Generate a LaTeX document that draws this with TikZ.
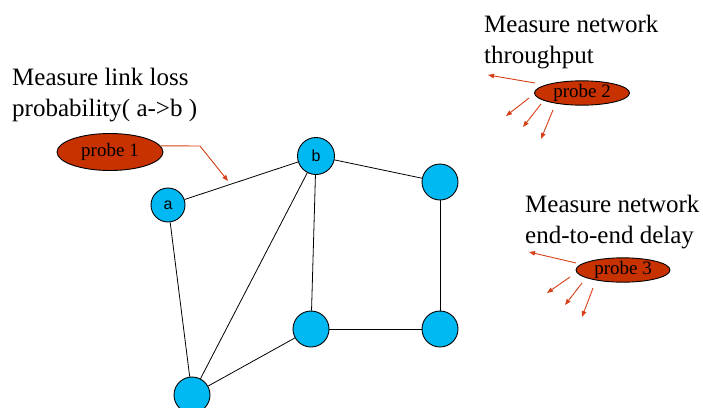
\documentclass[tikz,border=0pt]{standalone}
\usepackage{fontspec}
\setmainfont{Liberation Serif}
\newfontfamily\labelfont{Liberation Sans}
\usetikzlibrary{shapes.geometric, arrows.meta}

\definecolor{nodeblue}{RGB}{0,185,242}
\definecolor{probered}{RGB}{200,50,0}
\definecolor{arrowred}{RGB}{214,64,24}

\tikzset{
  router/.style={circle, draw=black, line width=0.9pt, fill=nodeblue,
    minimum size=36pt, inner sep=0pt, font=\labelfont\fontsize{16}{18}\selectfont},
  probe/.style={ellipse, draw=black, line width=0.9pt, fill=probered,
    inner sep=0pt, font=\fontsize{19}{21}\selectfont},
  caption/.style={anchor=north west, inner sep=0pt, align=left,
    font=\fontsize{25}{30.5}\selectfont},
  link/.style={line width=0.8pt},
  probearrow/.style={arrowred, line width=0.9pt,
    -{Triangle[length=6pt,width=4.5pt]}}
}

\begin{document}
\begin{tikzpicture}[x=1pt, y=-1pt]
    \useasboundingbox (0,0) rectangle (703,407);

    % network
    \node[router, minimum size=34pt] (a) at (168,205) {a};
    \node[router, minimum size=37pt] (b) at (316,156) {b};
    \node[router] (tr) at (440,182) {};
    \node[router] (mid) at (311,329) {};
    \node[router] (br) at (440,329) {};
    \node[router] (bl) at (192,395) {};

    \draw[link] (a) -- (b);
    \draw[link] (a) -- (bl);
    \draw[link] (b) -- (tr);
    \draw[link] (b) -- (mid);
    \draw[link] (b) -- (bl);
    \draw[link] (tr) -- (br);
    \draw[link] (mid) -- (br);
    \draw[link] (mid) -- (bl);

    % probe 1: link loss
    \node[caption] (t1) at (12,68)
        {Measure link loss \\ probability( a->b )};
    \node[probe, minimum width=106pt, minimum height=37pt] (p1) at (110,152) {probe 1};
    \coordinate (p1bend) at (200,146);
    \coordinate (p1tip) at (228,181);
    \draw[probearrow] (p1.7) -- (p1bend) -- (p1tip);

    % probe 2: throughput
    \node[caption] (t2) at (484,15)
        {Measure network \\ throughput};
    \node[probe, minimum width=95pt, minimum height=21pt] (p2) at (582,93) {probe 2};
    \draw[probearrow] ([shift={(-47,-10)}]p2.center) -- ([shift={(-94,-18)}]p2.center);
    \draw[probearrow] ([shift={(-53,5)}]p2.center) -- ([shift={(-76,23)}]p2.center);
    \draw[probearrow] ([shift={(-41,11)}]p2.center) -- ([shift={(-59,34)}]p2.center);
    \draw[probearrow] ([shift={(-29,17)}]p2.center) -- ([shift={(-41,46)}]p2.center);

    % probe 3: delay
    \node[caption] (t3) at (525,195)
        {Measure network \\ end-to-end delay};
    \node[probe, minimum width=94pt, minimum height=21pt] (p3) at (623,270) {probe 3};
    \draw[probearrow] ([shift={(-47,-7)}]p3.center) -- ([shift={(-94,-18)}]p3.center);
    \draw[probearrow] ([shift={(-53,7)}]p3.center) -- ([shift={(-76,23)}]p3.center);
    \draw[probearrow] ([shift={(-41,13)}]p3.center) -- ([shift={(-58,35)}]p3.center);
    \draw[probearrow] ([shift={(-30,18)}]p3.center) -- ([shift={(-41,47)}]p3.center);
\end{tikzpicture}
\end{document}
